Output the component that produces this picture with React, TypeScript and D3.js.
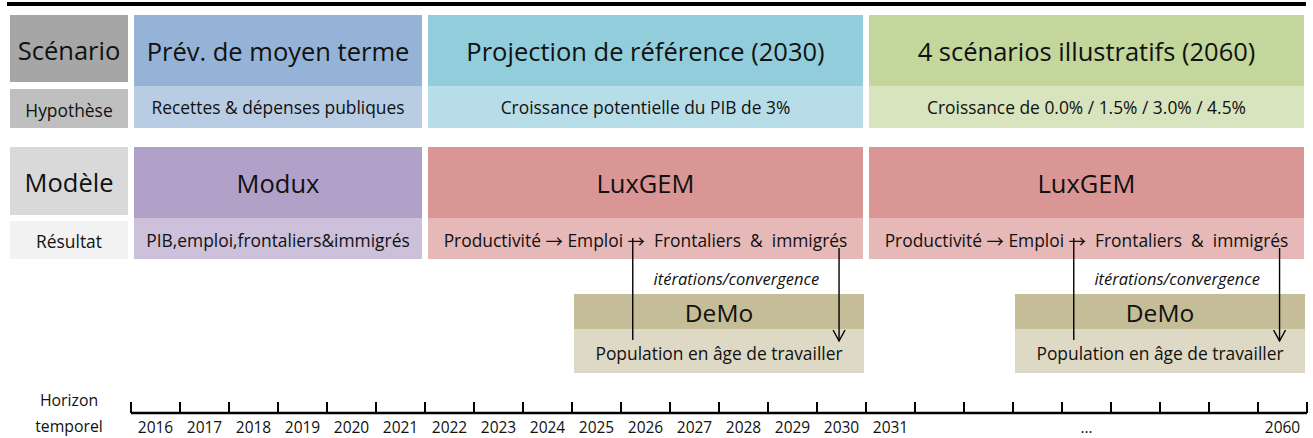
import React from 'react';
import * as d3 from 'd3';

// timeline slots (one label per year interval)
const yearLabels = [
  '2016', '2017', '2018', '2019', '2020', '2021', '2022', '2023',
  '2024', '2025', '2026', '2027', '2028', '2029', '2030', '2031',
  '', '', '', '…', '', '', '', '2060',
];

const rowLabels = ['Scénario', 'Hypothèse', 'Modèle', 'Résultat'];

const scenarioNames = ['Prév. de moyen terme', 'Projection de référence (2030)', '4 scénarios illustratifs (2060)'];
const hypotheses = ['Recettes & dépenses publiques', 'Croissance potentielle du PIB de 3%', 'Croissance de 0.0% / 1.5% / 3.0% / 4.5%'];
// [start, end] in year slots
const periods: [number, number][] = [[0, 6], [6, 15], [15, 24]];

const modelNames = ['Modux', 'LuxGEM', 'LuxGEM'];
const modelResults = [
  'PIB,emploi,frontaliers&immigrés',
  'Productivité → Emploi →  Frontaliers  &  immigrés',
  'Productivité → Emploi →  Frontaliers  &  immigrés',
];

const demoPeriods: [number, number][] = [[9, 15], [18, 24]];
const demoName = 'DeMo';
const demoResult = 'Population en âge de travailler';
const loopLabel = 'itérations/convergence';
// links between LuxGEM and DeMo: [up line (from DeMo), down arrow (to DeMo)] in year slots
const loopLinks: [number, number][] = [[10.24, 14.45], [19.24, 23.44]];

const scenarioColors = [['#95b3d7', '#b8cce4'], ['#92cddc', '#b7dee8'], ['#c3d69b', '#d7e4bd']];
const modelColors = [['#b1a0c7', '#ccc0da'], ['#da9694', '#e6b8b7'], ['#da9694', '#e6b8b7']];
const demoColors = ['#c4bd97', '#ddd9c4'];
const labelColors = ['#a6a6a6', '#bfbfbf', '#d9d9d9', '#f2f2f2'];

const W = 1313;
const H = 438;
const FONT = '"Open Sans", sans-serif';

// arrows are missing from Open Sans, take the thin one from Noto CJK
function withArrows(s: string) {
  const parts = s.split('→');
  return parts.flatMap((p, i) =>
    i === 0 ? [p] : [<tspan key={i} fontFamily='"Noto Sans CJK SC", "DejaVu Sans", sans-serif'>→</tspan>, p]);
}

export default function App() {
  const x = d3.scaleLinear().domain([0, yearLabels.length]).range([131, 1307]);

  // row bands
  const scenTop = [15, 86];
  const scenBot = [86, 128];
  const modTop = [147, 218];
  const modBot = [218, 259];
  const labelRows = [[15, 82], [89, 128], [147, 215], [221, 259]];
  const demoTop = [294, 329];
  const demoBot = [329, 373];
  const axisY = 413;

  const big = 25.5;
  const small = 17.4;

  const txt = (tx: number, ty: number, s: any, size: number, extra: any = {}) => (
    <text x={tx} y={ty} textAnchor="middle" dominantBaseline="central" fontSize={size}
      fontFamily={FONT} fill="#111" style={{ whiteSpace: 'pre' }} {...extra}>{s}</text>
  );

  return (
    <div style={{ position: 'absolute', left: 0, top: 0 }}>
      <svg width={W} height={H} viewBox={`0 0 ${W} ${H}`} style={{ display: 'block', background: '#fff' }}>
        <defs>
          <marker id="vhead" viewBox="0 0 12 14" refX="11" refY="7" markerWidth="12" markerHeight="14"
            markerUnits="userSpaceOnUse" orient="auto">
            <path d="M0,1 L11,7 L0,13" fill="none" stroke="#000" strokeWidth={1.4} />
          </marker>
        </defs>

        <rect x={7} y={2} width={1299} height={4} fill="#000" />

        {/* row labels */}
        {rowLabels.map((l, i) => {
          const [y0, y1] = labelRows[i];
          return (
            <g key={l}>
              <rect x={10} y={y0} width={118} height={y1 - y0} fill={labelColors[i]} />
              {txt(69, (y0 + y1) / 2 + 1, l, i % 2 === 0 ? big : small)}
            </g>
          );
        })}

        {/* scenarios and models */}
        {periods.map(([s, e], i) => {
          const x0 = x(s) + 3;
          const x1 = x(e) - 3;
          const cx = (x0 + x1) / 2;
          return (
            <g key={'sc' + i}>
              <rect x={x0} y={scenTop[0]} width={x1 - x0} height={scenTop[1] - scenTop[0]} fill={scenarioColors[i][0]} />
              <rect x={x0} y={scenBot[0]} width={x1 - x0} height={scenBot[1] - scenBot[0]} fill={scenarioColors[i][1]} />
              {txt(cx, 51, scenarioNames[i], big)}
              {txt(cx, 107, hypotheses[i], small)}
              <rect x={x0} y={modTop[0]} width={x1 - x0} height={modTop[1] - modTop[0]} fill={modelColors[i][0]} />
              <rect x={x0} y={modBot[0]} width={x1 - x0} height={modBot[1] - modBot[0]} fill={modelColors[i][1]} />
              {txt(cx, 183, modelNames[i], big)}
              {txt(cx, 240, withArrows(modelResults[i]), small)}
            </g>
          );
        })}

        {/* DeMo */}
        {demoPeriods.map(([s, e], i) => {
          const x0 = x(s) + 2;
          const x1 = x(e) - 2;
          const cx = (x0 + x1) / 2;
          const [up, down] = loopLinks[i];
          return (
            <g key={'dm' + i}>
              <rect x={x0} y={demoTop[0]} width={x1 - x0} height={demoTop[1] - demoTop[0]} fill={demoColors[0]} />
              <rect x={x0} y={demoBot[0]} width={x1 - x0} height={demoBot[1] - demoBot[0]} fill={demoColors[1]} />
              {txt(cx, 312, demoName, 24.5)}
              {txt(cx, 353, demoResult, small)}
              <line x1={x(up)} x2={x(up)} y1={238} y2={340} stroke="#000" strokeWidth={1.4} />
              <line x1={x(down)} x2={x(down)} y1={248} y2={341} stroke="#000" strokeWidth={1.4} markerEnd="url(#vhead)" />
              {txt((x(up) + x(down)) / 2 + 0.5, 278, loopLabel, 16.5, { fontStyle: 'italic' })}
            </g>
          );
        })}

        {/* timeline */}
        {txt(69, 400, 'Horizon', 15.8)}
        {txt(69, 426, 'temporel', 15.8)}
        <line x1={x(0)} x2={x(yearLabels.length)} y1={axisY} y2={axisY} stroke="#000" strokeWidth={2.5} />
        {d3.range(yearLabels.length + 1).map(i => (
          <line key={'t' + i} x1={x(i)} x2={x(i)} y1={402} y2={axisY} stroke="#000" strokeWidth={2} />
        ))}
        {yearLabels.map((l, i) => (l ? <g key={'y' + i}>{txt(x(i + 0.5), 427, l, 15.5)}</g> : null))}
      </svg>
    </div>
  );
}
